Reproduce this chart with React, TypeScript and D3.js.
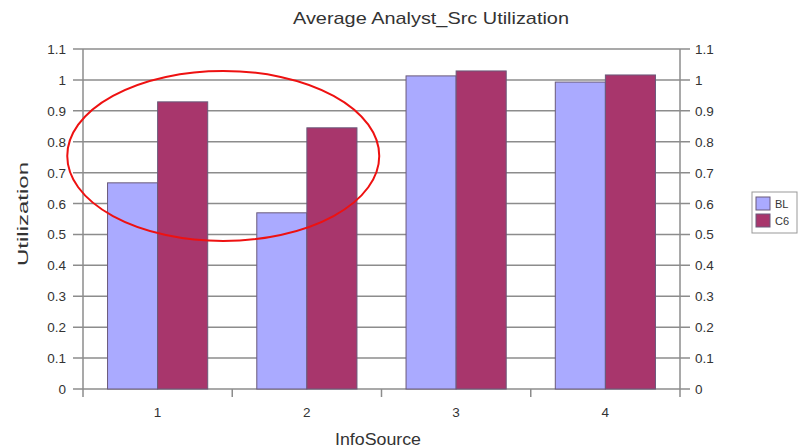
import { useEffect, useRef } from 'react';
import * as d3 from 'd3';

const categories = ['1', '2', '3', '4'];
const seriesNames = ['BL', 'C6'];
const blValues = [0.667, 0.57, 1.013, 0.993];
const c6Values = [0.929, 0.845, 1.029, 1.016];
const yTicks = [0, 0.1, 0.2, 0.3, 0.4, 0.5, 0.6, 0.7, 0.8, 0.9, 1, 1.1];
const colors = ['#aaaaff', '#a8366c'];

export default function App() {
  const svgRef = useRef<SVGSVGElement>(null);

  useEffect(() => {
    const svg = d3.select(svgRef.current);
    svg.selectAll('*').remove();

    const width = 808;
    const height = 448;
    const margin = { top: 49, right: 128, bottom: 59, left: 83 };
    const font = '"Liberation Sans", Arial, sans-serif';
    const textColor = '#333';

    const x = d3.scaleBand().domain(categories).range([margin.left, width - margin.right]);
    const inner = d3.scaleBand().domain(seriesNames).range([0, x.bandwidth()]).paddingOuter(0.49).paddingInner(0);
    const y = d3.scaleLinear().domain([0, 1.1]).range([height - margin.bottom, margin.top]);

    svg.append('rect').attr('width', width).attr('height', height).attr('fill', '#fff');

    // gridlines
    svg.append('g')
      .selectAll('line')
      .data(yTicks)
      .join('line')
      .attr('x1', margin.left - 10)
      .attr('x2', width - margin.right + 10)
      .attr('y1', (d) => y(d))
      .attr('y2', (d) => y(d))
      .attr('stroke', '#8c8c8c')
      .attr('stroke-width', 1.5);

    // side axes
    [margin.left, width - margin.right].forEach((xp) => {
      svg.append('line')
        .attr('x1', xp).attr('x2', xp)
        .attr('y1', y(1.1)).attr('y2', y(0))
        .attr('stroke', '#8c8c8c').attr('stroke-width', 1.5);
    });

    // bars
    const data = categories.map((c, i) => ({ cat: c, vals: [blValues[i], c6Values[i]] }));
    const groups = svg.append('g')
      .selectAll('g')
      .data(data)
      .join('g')
      .attr('transform', (d) => `translate(${x(d.cat)},0)`);
    groups.selectAll('rect')
      .data((d) => d.vals.map((v, j) => ({ v, s: seriesNames[j], j })))
      .join('rect')
      .attr('x', (d) => inner(d.s)!)
      .attr('width', inner.bandwidth())
      .attr('y', (d) => y(d.v))
      .attr('height', (d) => y(0) - y(d.v))
      .attr('fill', (d) => colors[d.j])
      .attr('stroke', '#6a5a7a')
      .attr('stroke-width', 1);

    // x-axis category ticks
    const bounds = d3.range(categories.length + 1).map((i) => margin.left + i * x.step());
    svg.append('g')
      .selectAll('line')
      .data(bounds)
      .join('line')
      .attr('x1', (d) => d).attr('x2', (d) => d)
      .attr('y1', y(0)).attr('y2', y(0) + 8)
      .attr('stroke', '#8c8c8c').attr('stroke-width', 1.5);

    svg.append('g')
      .selectAll('text')
      .data(categories)
      .join('text')
      .attr('x', (d) => x(d)! + x.bandwidth() / 2)
      .attr('y', y(0) + 28)
      .attr('text-anchor', 'middle')
      .attr('font-family', font).attr('font-size', 13.5).attr('fill', textColor)
      .text((d) => d);

    // y tick labels
    svg.append('g')
      .selectAll('text')
      .data(yTicks)
      .join('text')
      .attr('x', margin.left - 17)
      .attr('y', (d) => y(d) + 5)
      .attr('text-anchor', 'end')
      .attr('font-family', font).attr('font-size', 13.5).attr('fill', textColor)
      .text((d) => d3.format('~g')(d));
    svg.append('g')
      .selectAll('text')
      .data(yTicks)
      .join('text')
      .attr('x', width - margin.right + 15)
      .attr('y', (d) => y(d) + 5)
      .attr('text-anchor', 'start')
      .attr('font-family', font).attr('font-size', 13.5).attr('fill', textColor)
      .text((d) => d3.format('~g')(d));

    // title and axis labels (source text is slightly stretched horizontally)
    svg.append('text')
      .attr('x', 431).attr('y', 24)
      .attr('text-anchor', 'middle')
      .attr('font-family', font).attr('font-size', 17).attr('fill', textColor)
      .attr('textLength', 276).attr('lengthAdjust', 'spacingAndGlyphs')
      .text('Average Analyst_Src Utilization');
    svg.append('text')
      .attr('transform', `translate(28,214) rotate(-90)`)
      .attr('text-anchor', 'middle')
      .attr('font-family', font).attr('font-size', 15.5).attr('fill', textColor)
      .attr('textLength', 104).attr('lengthAdjust', 'spacingAndGlyphs')
      .text('Utilization');
    svg.append('text')
      .attr('x', 378).attr('y', 445)
      .attr('text-anchor', 'middle')
      .attr('font-family', font).attr('font-size', 16).attr('fill', textColor)
      .attr('textLength', 86).attr('lengthAdjust', 'spacingAndGlyphs')
      .text('InfoSource');

    // legend
    const lg = svg.append('g').attr('transform', 'translate(752,192)');
    lg.append('rect').attr('width', 45).attr('height', 41)
      .attr('fill', '#fff').attr('stroke', '#999').attr('stroke-width', 1);
    seriesNames.forEach((s, i) => {
      lg.append('rect')
        .attr('x', 4).attr('y', 5 + i * 17).attr('width', 14).attr('height', 13)
        .attr('fill', colors[i]).attr('stroke', '#6a5a7a');
      lg.append('text')
        .attr('x', 23).attr('y', 16 + i * 17)
        .attr('font-family', font).attr('font-size', 11).attr('fill', textColor)
        .text(s);
    });

    // highlight ellipse
    svg.append('ellipse')
      .attr('cx', (x('1')! + x('2')! + x.bandwidth()) / 2 - 9)
      .attr('cy', y(0.754))
      .attr('rx', 156).attr('ry', 85)
      .attr('fill', 'none').attr('stroke', '#ee1111').attr('stroke-width', 2);
  }, []);

  return (
    <svg ref={svgRef} width={808} height={448}
      style={{ position: 'absolute', left: 0, top: 0, display: 'block' }} />
  );
}
